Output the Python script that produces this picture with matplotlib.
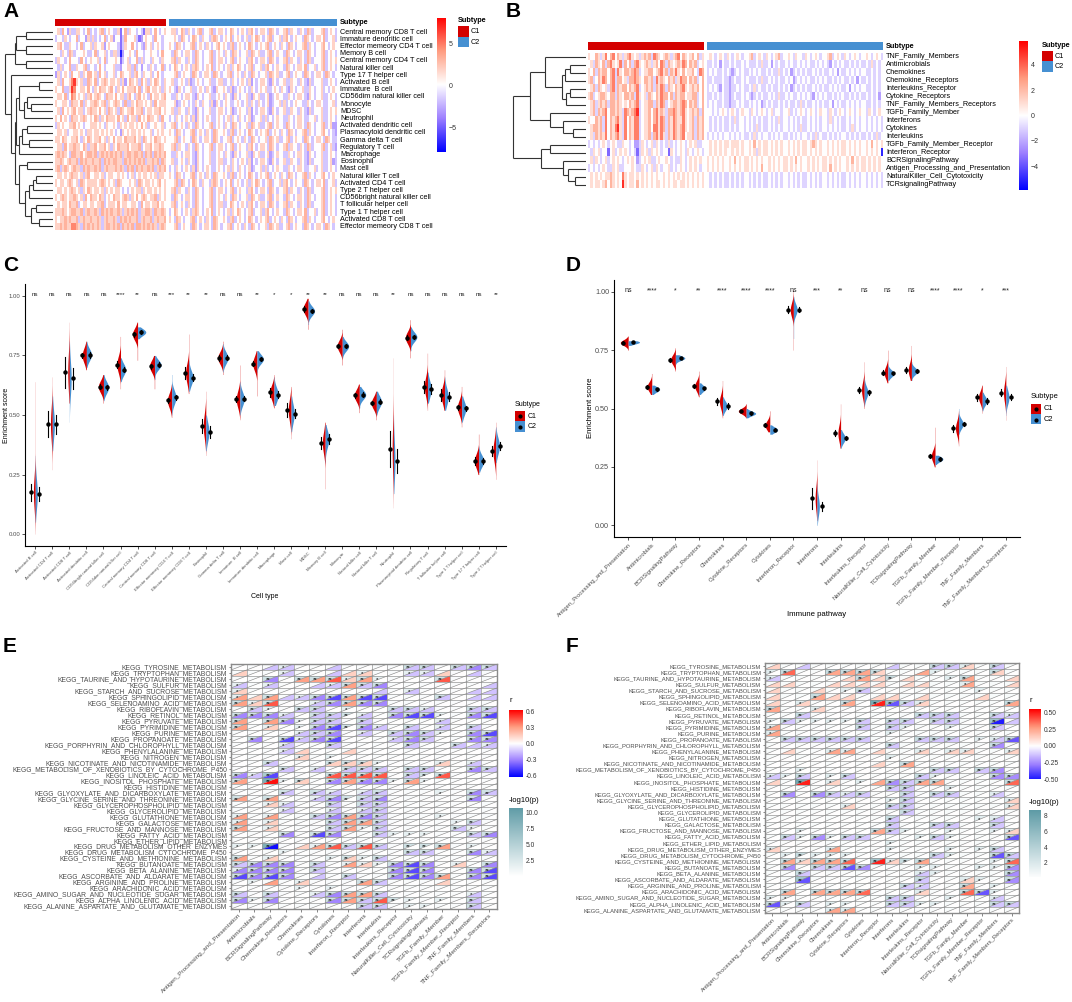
import numpy as np
import matplotlib
matplotlib.use("Agg")
import matplotlib.pyplot as plt
from matplotlib.colors import LinearSegmentedColormap, ListedColormap, Normalize
from matplotlib.collections import PolyCollection, LineCollection
from matplotlib.patches import Rectangle
from matplotlib.lines import Line2D

plt.rcParams['font.family'] = ['Liberation Sans', 'DejaVu Sans']

# ---------------- data ----------------
C1_COL = "#D40000"
C2_COL = "#4690D2"

# panel A: ssGSEA immune cells heatmap (digit -> level)
a_rows = ["Central memory CD8 T cell", "Immature dendritic cell", "Effector memeory CD4 T cell",
          "Memory B cell", "Central memory CD4 T cell", "Natural killer cell", "Type 17 T helper cell",
          "Activated B cell", "Immature  B cell", "CD56dim natural killer cell", "Monocyte", "MDSC",
          "Neutrophil", "Activated dendritic cell", "Plasmacytoid dendritic cell", "Gamma delta T cell",
          "Regulatory T cell", "Macrophage", "Eosinophil", "Mast cell", "Natural killer T cell",
          "Activated CD4 T cell", "Type 2 T helper cell", "CD56bright natural killer cell",
          "T follicular helper cell", "Type 1 T helper cell", "Activated CD8 T cell",
          "Effector memeory CD8 T cell"]
a_levels = [-7, -4.5, -3, -1.8, 0, 1.8, 3, 4.5, 6.5]
a_c1 = [
    "45364253 35543463 43456345 43351463 54434315 53464345",
    "34435434 46344253 53434634 52441364 44531245 44364434",
    "45643354 43463445 35445245 44431354 46434325 45345434",
    "44354365 34445433 46344534 35530244 54364434 45443464",
    "35443464 44364345 44534634 44541345 34463534 43544354",
    "43534463 35445634 43464344 45332445 53634244 35434463",
    "25345436 44535466 45364534 45346544 53564354 45346434",
    "45364457 85453365 46345654 55453524 65453645 35465435",
    "54463358 74455464 35465545 64354645 55646345 64554535",
    "45546347 64545356 45654365 54645535 64356454 36455456",
    "54455436 55463545 56545635 45654363 35465545 45364555",
    "45364545 64553456 55464536 54536545 56455634 55455645",
    "54645436 55456545 46535465 55464536 45536454 65545364",
    "35454455 64543445 55454354 45435454 55454645 34454453",
    "45545344 55454355 45545454 54342545 45545454 45345454",
    "55465445 56435465 45564535 46455465 55645365 45465545",
    "45536455 65546535 56455645 35465556 45556345 56455654",
    "56565436 65564566 56356565 65656356 65665636 56365656",
    "55654565 56365655 65563656 56655365 65656563 55656365",
    "56356545 65536565 56563565 55656536 56365655 65635656",
    "45545456 55453564 45545345 54454543 45345455 45453554",
    "54554565 45365455 55456545 45365444 54536545 54545645",
    "45545456 54535465 45545354 54554343 45455354 55454545",
    "54565455 65453646 55465345 46554565 35464565 45563545",
    "45455465 56345545 54556345 55464554 45543645 54556454",
    "55565456 65563565 56536565 65565356 56563556 65365565",
    "54556565 56356556 55653565 56536565 65563565 56356556",
    "55656557 76536565 65653566 56563656 56366565 65653565",
]
a_c2 = [
    "45534653 54345634 45634554 34654345 43564345 54365434 45635443 54365344 45634543",
    "44543654 34654354 43565434 54634543 45354654 34563445 35643454 43654345 54634453",
    "54365434 45634543 54345645 43563454 34654345 45634543 54365434 45635434 45643454",
    "43654345 54365434 45634543 54365434 45365453 34563454 43654345 54365434 45634543",
    "45635443 54365434 45634554 34563454 43564345 54365434 45635443 54365344 45634545",
    "34654345 43565434 54634543 45354654 34563445 35643454 43654345 54634453 45634543",
    "44563454 43654345 54365434 45634543 54365434 45365453 34563454 43654345 54365434",
    "45334543 52345434 45334553 34354345 43524345 54325434 45335443 54325344 45334543",
    "54325434 45334543 54325445 43523454 34354345 45334543 54325434 45335434 45343454",
    "43354345 54325434 45334543 54325434 45325453 34523454 43354345 54325434 45334543",
    "44523454 34354354 43525434 54334543 45354354 34523445 35343454 43354345 54334453",
    "45335443 54325434 45334554 34523454 43524345 54325434 45335443 54325344 45334545",
    "34354345 43525434 54334543 45354354 34523445 35343454 43354345 54334453 45334543",
    "45634543 54365434 45634543 54365434 45365453 34563454 43654345 54365434 45634522",
    "54365434 45634543 54365445 43563454 34654345 45634543 54365434 45635434 45643432",
    "44563454 43654345 54365434 45634543 54365434 45365453 34563454 43654345 54365433",
    "45635443 54365434 45634554 34563454 43564345 54365434 45635443 54365344 45634532",
    "43354345 54325434 45334543 54325434 45325453 34523454 43354345 54325434 45334543",
    "45334543 54325434 45334553 34354345 43524345 54325434 45335443 54325344 45334523",
    "34354345 43525434 54334543 45354354 34523445 35343454 43354345 54334453 45334543",
    "54365434 45634543 54365445 43563454 34654345 45634543 54365434 45635434 45643454",
    "44563654 34654354 43565434 54634543 45354654 34563445 35643454 43654345 54634453",
    "45635443 54365434 45634554 34563454 43564345 54365434 45635443 54365344 45634545",
    "43654345 54365434 45634543 54365434 45365453 34563454 43654345 54365434 45634543",
    "45634543 54365434 45634553 34654345 43564345 54365434 45635443 54365344 45634543",
    "34654345 43565434 54634543 45354654 34563445 35643454 43654345 54634453 45634543",
    "54365434 45634543 54365445 43563454 34654345 45634543 54365434 45635434 45643454",
    "44563454 43654345 54365434 45634543 54365434 45365453 34563454 43654345 54365434",
]
# dendrogram merges (left, right, height); ids >= n refer to earlier merges
a_merges = [(0, 1, 0.56), (2, 3, 0.56), (28, 29, 0.76), (4, 5, 0.56), (30, 31, 0.8),
            (7, 8, 0.3), (10, 11, 0.45), (9, 34, 0.55), (35, 12, 0.6), (33, 36, 0.7),
            (13, 14, 0.55), (15, 16, 0.5), (38, 39, 0.65), (40, 17, 0.7), (37, 41, 0.76),
            (18, 19, 0.55), (20, 21, 0.35), (44, 22, 0.42), (45, 23, 0.5), (24, 25, 0.35),
            (26, 27, 0.3), (47, 48, 0.45), (46, 49, 0.58), (43, 50, 0.7), (42, 51, 0.8),
            (6, 52, 0.87), (32, 53, 1.0)]

# panel B: immune pathways heatmap
b_rows = ["TNF_Family_Members", "Antimicrobials", "Chemokines", "Chemokine_Receptors",
          "Interleukins_Receptor", "Cytokine_Receptors", "TNF_Family_Members_Receptors",
          "TGFb_Family_Member", "Interferons", "Cytokines", "Interleukins",
          "TGFb_Family_Member_Receptor", "Interferon_Receptor", "BCRSignalingPathway",
          "Antigen_Processing_and_Presentation", "NaturalKiller_Cell_Cytotoxicity", "TCRsignalingPathway"]
b_levels = [-5, -3.5, -2.2, -1, 0, 1, 2.2, 3.5, 5]
b_c1 = [
    "54465357 46746535 67545356 56376545 65356746 54564635",
    "45365463 67545736 46367545 65356476 36545657 64656345",
    "54636566 46737546 65676345 56645675 63657546 45564376",
    "56346576 46736645 36676546 65637565 46563576 64656346",
    "45636545 36736566 46567345 65636576 36546567 54565646",
    "56345665 46636546 65637545 36546576 64636566 45566346",
    "45635656 36656545 46567345 56636576 34566567 64656346",
    "45636567 46656537 65678345 56467565 36676567 54565636",
    "54465637 46567537 46577345 56467576 36576557 54563656",
    "45665637 46578537 46577345 56477576 36576567 54563656",
    "45365657 46567537 46577345 56367575 36576567 45563656",
    "34343454 34543354 43422354 34535434 35343454 34545334",
    "43545344 14534545 43431354 53545434 41543454 35434543",
    "45354345 34545434 54542345 45334544 54343354 34545454",
    "34343454 33545334 44543354 34535434 45343454 34545434",
    "45454545 56545475 45545454 54545445 45454545 45454545",
    "45455456 46545485 45546454 54545545 45455455 45454545",
]
b_c2 = [
    "45434543 54345434 45634543 54345634 45435443 54345434 45634543 54345434 45434543",
    "33434243 34343343 43334353 34243433 43433434 34334343 43243434 33434343 34353434",
    "34343343 43234343 34343433 43433534 34234343 43343434 33434243 34343434 43343434",
    "33433343 32343343 43334353 34343433 43423434 34334343 43343434 33434243 34343434",
    "34343243 32334343 34353433 43433434 34234343 43343434 33434343 34243434 43343434",
    "33434343 32343343 43234343 34343533 43433434 34324343 43343434 33434343 34343424",
    "34343343 32334343 34343423 43433434 34334353 43343434 33424343 34343434 43343434",
    "44343454 34543454 43543454 34534434 45343454 34543454 43543454 34543454 43543454",
    "43434343 34353443 43434343 34343534 43434343 34343434 43534343 34343434 43434343",
    "43434343 34343443 43435343 34343434 43434353 34343434 43434343 34353434 43434343",
    "34343434 43434343 34353434 43434343 34343434 43435343 34343434 43434343 34343534",
    "45454545 54555454 45464545 54545454 45454545 54565454 45454545 54545454 45464545",
    "45454545 44545454 45453545 54545454 45454545 54545454 45454545 54545454 45454540",
    "54545454 45464545 54545454 45454545 54546454 45454545 54545454 45464545 54545454",
    "54545454 45454545 54545464 45454545 54545454 45454545 54645454 45454545 54545454",
    "43434343 34343434 43434343 34343434 43434343 34343434 43434343 34343434 43434343",
    "43434343 34343434 43434343 34343434 43434343 34343434 43434343 34343434 43434343",
]
b_merges = [(1, 2, 0.22), (17, 3, 0.29), (4, 5, 0.22), (19, 6, 0.27), (18, 20, 0.33),
            (0, 21, 0.56), (9, 10, 0.18), (8, 23, 0.32), (7, 24, 0.49), (22, 25, 0.77),
            (15, 16, 0.15), (14, 27, 0.25), (13, 28, 0.32), (11, 12, 0.5), (30, 29, 0.62),
            (26, 31, 1.0)]

# panel C: cell type enrichment by subtype
cell_types = ["Activated B cell", "Activated CD4 T cell", "Activated CD8 T cell", "Activated dendritic cell",
              "CD56bright natural killer cell", "CD56dim natural killer cell", "Central memory CD4 T cell",
              "Central memory CD8 T cell", "Effector memeory CD4 T cell", "Effector memeory CD8 T cell",
              "Eosinophil", "Gamma delta T cell", "Immature  B cell", "Immature dendritic cell",
              "Macrophage", "Mast cell", "MDSC", "Memory B cell", "Monocyte", "Natural killer cell",
              "Natural killer T cell", "Neutrophil", "Plasmacytoid dendritic cell", "Regulatory T cell",
              "T follicular helper cell", "Type 1 T helper cell", "Type 17 T helper cell", "Type 2 T helper cell"]
cell_sig = ["ns", "ns", "ns", "ns", "ns", "****", "**", "ns", "***", "**", "**", "ns", "ns", "**",
            "*", "*", "**", "**", "ns", "ns", "ns", "**", "ns", "ns", "ns", "ns", "ns", "**"]
cell_c1_mid = [0.175, 0.462, 0.679, 0.750, 0.619, 0.712, 0.839, 0.705, 0.561, 0.675, 0.454, 0.740, 0.566, 0.716,
               0.595, 0.520, 0.946, 0.383, 0.790, 0.582, 0.550, 0.356, 0.825, 0.619, 0.585, 0.532, 0.307, 0.349]
cell_c2_mid = [0.168, 0.461, 0.654, 0.753, 0.616, 0.691, 0.848, 0.711, 0.574, 0.656, 0.429, 0.740, 0.568, 0.735,
               0.585, 0.506, 0.937, 0.400, 0.789, 0.585, 0.556, 0.307, 0.828, 0.609, 0.577, 0.528, 0.307, 0.370]
cell_c1_err = [0.035, 0.055, 0.065, 0.012, 0.010, 0.015, 0.010, 0.010, 0.012, 0.025, 0.030, 0.012, 0.012, 0.010,
               0.020, 0.030, 0.012, 0.025, 0.010, 0.012, 0.010, 0.075, 0.010, 0.025, 0.025, 0.012, 0.015, 0.020]
cell_c2_err = [0.030, 0.040, 0.045, 0.012, 0.010, 0.010, 0.008, 0.010, 0.012, 0.015, 0.025, 0.010, 0.010, 0.010,
               0.015, 0.020, 0.010, 0.020, 0.008, 0.010, 0.010, 0.050, 0.008, 0.020, 0.020, 0.010, 0.012, 0.018]
cell_c1_sd = [0.07, 0.07, 0.08, 0.03, 0.025, 0.035, 0.025, 0.025, 0.03, 0.04, 0.05, 0.025, 0.035, 0.03,
              0.03, 0.045, 0.025, 0.045, 0.025, 0.025, 0.025, 0.10, 0.025, 0.04, 0.035, 0.03, 0.03, 0.045]
cell_c2_sd = [0.06, 0.06, 0.07, 0.025, 0.025, 0.025, 0.015, 0.02, 0.03, 0.03, 0.04, 0.025, 0.03, 0.02,
              0.03, 0.04, 0.02, 0.035, 0.02, 0.02, 0.025, 0.08, 0.02, 0.035, 0.035, 0.03, 0.025, 0.035]
cell_c1_lo = [0.00, 0.27, 0.55, 0.69, 0.55, 0.61, 0.73, 0.61, 0.49, 0.59, 0.33, 0.67, 0.48, 0.58,
              0.53, 0.40, 0.86, 0.19, 0.71, 0.51, 0.48, 0.11, 0.74, 0.52, 0.52, 0.45, 0.25, 0.23]
cell_c1_hi = [0.64, 0.66, 0.89, 0.81, 0.67, 0.83, 0.89, 0.75, 0.63, 0.84, 0.60, 0.81, 0.71, 0.77,
              0.67, 0.62, 0.99, 0.47, 0.86, 0.63, 0.60, 0.74, 0.90, 0.76, 0.69, 0.62, 0.42, 0.47]
cell_c2_lo = [0.05, 0.35, 0.47, 0.70, 0.56, 0.64, 0.82, 0.65, 0.50, 0.60, 0.35, 0.68, 0.50, 0.68,
              0.54, 0.43, 0.88, 0.30, 0.74, 0.53, 0.50, 0.17, 0.77, 0.55, 0.52, 0.47, 0.26, 0.30]
cell_c2_hi = [0.33, 0.58, 0.81, 0.81, 0.67, 0.74, 0.87, 0.75, 0.67, 0.73, 0.50, 0.80, 0.64, 0.77,
              0.66, 0.58, 0.98, 0.46, 0.83, 0.62, 0.60, 0.50, 0.87, 0.68, 0.66, 0.58, 0.37, 0.45]

# panel D: immune pathway enrichment by subtype
pathways = ["Antigen_Processing_and_Presentation", "Antimicrobials", "BCRSignalingPathway",
            "Chemokine_Receptors", "Chemokines", "Cytokine_Receptors", "Cytokines", "Interferon_Receptor",
            "Interferons", "Interleukins", "Interleukins_Receptor", "NaturalKiller_Cell_Cytotoxicity",
            "TCRsignalingPathway", "TGFb_Family_Member", "TGFb_Family_Member_Receptor",
            "TNF_Family_Members", "TNF_Family_Members_Receptors"]
path_sig = ["ns", "****", "*", "**", "****", "****", "****", "ns", "***", "**", "ns", "ns", "ns",
            "****", "****", "*", "***"]
path_c1_mid = [0.782, 0.593, 0.709, 0.596, 0.530, 0.489, 0.428, 0.922, 0.115, 0.394, 0.579, 0.654,
               0.664, 0.296, 0.416, 0.548, 0.567]
path_c2_mid = [0.784, 0.582, 0.716, 0.586, 0.511, 0.479, 0.409, 0.923, 0.081, 0.373, 0.569, 0.650,
               0.660, 0.284, 0.434, 0.533, 0.548]
path_c1_err = [0.008, 0.008, 0.008, 0.008, 0.015, 0.006, 0.008, 0.015, 0.045, 0.012, 0.012, 0.010,
               0.012, 0.010, 0.015, 0.015, 0.015]
path_c2_err = [0.005, 0.006, 0.006, 0.008, 0.012, 0.005, 0.006, 0.012, 0.020, 0.008, 0.010, 0.008,
               0.010, 0.008, 0.010, 0.012, 0.012]
path_c1_sd = [0.012, 0.02, 0.02, 0.022, 0.03, 0.012, 0.02, 0.03, 0.05, 0.035, 0.035, 0.025, 0.03,
              0.025, 0.03, 0.025, 0.04]
path_c2_sd = [0.008, 0.012, 0.01, 0.015, 0.02, 0.01, 0.012, 0.025, 0.04, 0.02, 0.025, 0.015, 0.015,
              0.012, 0.02, 0.02, 0.03]
path_c1_lo = [0.75, 0.56, 0.66, 0.55, 0.46, 0.46, 0.40, 0.75, 0.02, 0.33, 0.50, 0.61, 0.62, 0.25, 0.34, 0.48, 0.45]
path_c1_hi = [0.81, 0.65, 0.76, 0.66, 0.62, 0.52, 0.49, 1.01, 0.28, 0.52, 0.70, 0.75, 0.77, 0.42, 0.49, 0.60, 0.68]
path_c2_lo = [0.77, 0.56, 0.69, 0.56, 0.47, 0.46, 0.39, 0.80, 0.00, 0.33, 0.51, 0.62, 0.62, 0.26, 0.39, 0.49, 0.47]
path_c2_hi = [0.79, 0.60, 0.73, 0.61, 0.55, 0.50, 0.43, 0.98, 0.18, 0.41, 0.63, 0.69, 0.70, 0.30, 0.50, 0.57, 0.60]

# panels E/F: KEGG metabolism vs immune pathways
kegg = ["KEGG_TYROSINE_METABOLISM", "KEGG_TRYPTOPHAN_METABOLISM", "KEGG_TAURINE_AND_HYPOTAURINE_METABOLISM",
        "KEGG_SULFUR_METABOLISM", "KEGG_STARCH_AND_SUCROSE_METABOLISM", "KEGG_SPHINGOLIPID_METABOLISM",
        "KEGG_SELENOAMINO_ACID_METABOLISM", "KEGG_RIBOFLAVIN_METABOLISM", "KEGG_RETINOL_METABOLISM",
        "KEGG_PYRUVATE_METABOLISM", "KEGG_PYRIMIDINE_METABOLISM", "KEGG_PURINE_METABOLISM",
        "KEGG_PROPANOATE_METABOLISM", "KEGG_PORPHYRIN_AND_CHLOROPHYLL_METABOLISM",
        "KEGG_PHENYLALANINE_METABOLISM", "KEGG_NITROGEN_METABOLISM", "KEGG_NICOTINATE_AND_NICOTINAMIDE_METABOLISM",
        "KEGG_METABOLISM_OF_XENOBIOTICS_BY_CYTOCHROME_P450", "KEGG_LINOLEIC_ACID_METABOLISM",
        "KEGG_INOSITOL_PHOSPHATE_METABOLISM", "KEGG_HISTIDINE_METABOLISM",
        "KEGG_GLYOXYLATE_AND_DICARBOXYLATE_METABOLISM", "KEGG_GLYCINE_SERINE_AND_THREONINE_METABOLISM",
        "KEGG_GLYCEROPHOSPHOLIPID_METABOLISM", "KEGG_GLYCEROLIPID_METABOLISM", "KEGG_GLUTATHIONE_METABOLISM",
        "KEGG_GALACTOSE_METABOLISM", "KEGG_FRUCTOSE_AND_MANNOSE_METABOLISM", "KEGG_FATTY_ACID_METABOLISM",
        "KEGG_ETHER_LIPID_METABOLISM", "KEGG_DRUG_METABOLISM_OTHER_ENZYMES", "KEGG_DRUG_METABOLISM_CYTOCHROME_P450",
        "KEGG_CYSTEINE_AND_METHIONINE_METABOLISM", "KEGG_BUTANOATE_METABOLISM", "KEGG_BETA_ALANINE_METABOLISM",
        "KEGG_ASCORBATE_AND_ALDARATE_METABOLISM", "KEGG_ARGININE_AND_PROLINE_METABOLISM",
        "KEGG_ARACHIDONIC_ACID_METABOLISM", "KEGG_AMINO_SUGAR_AND_NUCLEOTIDE_SUGAR_METABOLISM",
        "KEGG_ALPHA_LINOLENIC_ACID_METABOLISM", "KEGG_ALANINE_ASPARTATE_AND_GLUTAMATE_METABOLISM"]
# r digit d -> (d - 4) * step ; p digit -> -log10(p) level
e_r = ["44334434444334323", "54434435544335434", "44246675644447444", "34344336324444443",
       "54444444434344433", "65633216114443433", "65744326224444444", "43443344443334433",
       "22234334342114421", "64624334344443444", "64544214234343434", "44443324343234421",
       "42413214443234422", "44434434444344333", "44435445444444444", "44445444444444444",
       "44344455544445434", "44434343334334423", "23144477774347444", "64845426224644444",
       "44444444444444444", "44434334334444423", "64644324324444424", "44534434334444444",
       "44434434334444444", "64644326234444444", "64544436634444434", "64544436434444344",
       "44424124434444432", "44444444444444444", "44045673734446444", "44444444444334423",
       "64544445434444444", "32224346542124542", "22224344442124421", "12124343442126421",
       "44645444634445444", "44444444444444444", "34344326634444434", "24244426374444434",
       "44444444334444434"]
e_p = ["00010000000220222", "00010000100110000", "00202221210002000", "10100012220000000",
       "10000000000100000", "10201222220002000", "21200122220000000", "02102201002210022",
       "22210222102221022", "20221220200001000", "20101222210201020", "00001220102221022",
       "02021220001220022", "00010020000200201", "00010000000000000", "00001010000000000",
       "00200022210001010", "00020102220220022", "21300022220222000", "20412022221210000",
       "00000000000000000", "00020210120001022", "20200122220000020", "00110020220000000",
       "00010010120000000", "10100222220001000", "10100022220000120", "20100022120000210",
       "00020220021110022", "00000000000000000", "11400122220222010", "00010000000220021",
       "20100012120000000", "22220201112220102", "12220200002220022", "22220002002222022",
       "01001000220000000", "00001010000000000", "20200122220000010", "21200022222101020",
       "00000000220110020"]
f_r = ["54344444344335434", "47446665446444454", "34444565454446445", "55445555455446445",
       "54454434444444444", "54465545545444544", "54544648135444446", "64454444444444444",
       "44344444443334433", "43444434334334403", "64444434344444434", "64444444444444444",
       "43333334443334431", "44444444344444424", "45446645445455445", "44444444444444444",
       "44444445464444444", "44444444444334324", "34344344443444422", "54845446236644447",
       "44444444334444444", "42423334434334434", "44444444434444445", "44444544334444445",
       "44444444434444444", "44444444344444434", "44444444344334434", "44444446344444445",
       "43424334444344441", "44444444444444444", "54446444444444434", "44444444444344413",
       "46566748546444447", "42433124444444442", "44344444443444442", "44144444443445442",
       "44444444433446444", "46466674445447144", "44444444334444434", "14344444334444433",
       "44446644444444444"]
f_p = ["00000000000221020", "12002222000100020", "10000020200012000", "00000000000001000",
       "00000120000000100", "00020000000000000", "00100204321000002", "20010000000000000",
       "00200000002220021", "12111120220220030", "10000020210010020", "10000000100000000",
       "02222220002220112", "00000000200000020", "00001100001011001", "00000000100000000",
       "00000000020000000", "00100000000220220", "11201200002100022", "00401010222200002",
       "00000000220010000", "02022120020220010", "00000000120000001", "00000100220000001",
       "00000000020000000", "00000000200000110", "00000000200220020", "00100002210010011",
       "02121220001210002", "00000000100000000", "10001000100010120", "01211100000210022",
       "02122203122000012", "02022220001100112", "00200000001100002", "00300000002001102",
       "00000000021002010", "02022220001002210", "11000000220010010", "21201100221100022",
       "00001100000000000"]
e_p_levels = [0.4, 1.6, 3.2, 5.5, 8.5]
f_p_levels = [0.4, 1.6, 3.0, 5.0, 7.5]

# ---------------- helpers ----------------
W, H = 1072, 1002
fig = plt.figure(figsize=(W / 100, H / 100), dpi=100)

heat_cmap = LinearSegmentedColormap.from_list(
    "bwr_lab", ["#0000FF", "#9E80FF", "#FFFFFF", "#FF9C80", "#FF0000"])
teal_cmap = LinearSegmentedColormap.from_list("teal", ["#FFFFFF", "#5E9BA6"])
GREY30 = "#4D4D4D"


def px_axes(x0, y0, x1, y1):
    return fig.add_axes([x0 / W, 1 - y1 / H, (x1 - x0) / W, (y1 - y0) / H])


def ftext(x, y, s, **kw):
    fig.text(x / W, 1 - y / H, s, **kw)


def fbox(x, y, w, h, color):
    fig.add_artist(Rectangle((x / W, 1 - (y + h) / H), w / W, h / H, transform=fig.transFigure,
                             facecolor=color, edgecolor="none"))


def decode(rows, levels):
    mats = [[levels[int(c)] for c in r.replace(" ", "")] for r in rows]
    n = min(len(m) for m in mats)
    return np.array([m[:n] for m in mats], dtype=float)


def draw_cbar(x0, y0, x1, y1, cmap, norm, lo, hi, ticks, labels, fs=5.0):
    cax = px_axes(x0, y0, x1, y1)
    vals = np.linspace(hi, lo, 256).reshape(-1, 1)
    cax.imshow(vals, cmap=cmap, norm=norm, aspect="auto", extent=(0, 1, lo, hi))
    cax.set_xlim(0, 1)
    cax.set_ylim(lo, hi)
    cax.set_xticks([])
    cax.yaxis.tick_right()
    cax.set_yticks(ticks)
    cax.set_yticklabels(labels, fontsize=fs, color="#333333")
    cax.tick_params(axis="y", length=0, pad=2)
    for sp in cax.spines.values():
        sp.set_visible(False)


def draw_dendro(ax, merges, n):
    pos = {i: float(i) for i in range(n)}
    hgt = {i: 0.0 for i in range(n)}
    segs = []
    for k, (a, b, h) in enumerate(merges):
        segs.append([(hgt[a], pos[a]), (h, pos[a])])
        segs.append([(hgt[b], pos[b]), (h, pos[b])])
        segs.append([(h, pos[a]), (h, pos[b])])
        pos[n + k] = (pos[a] + pos[b]) / 2
        hgt[n + k] = h
    ax.add_collection(LineCollection(segs, colors="#333333", linewidths=0.8))
    ax.set_xlim(1.02, 0.0)
    ax.set_ylim(n - 0.5, -0.5)
    ax.axis("off")


def draw_heatmap(g, rows, c1, c2, levels, merges, vmax, ticks, tick_labels):
    m1 = decode(c1, levels)
    m2 = decode(c2, levels)
    n = len(rows)
    norm = Normalize(-vmax, vmax)
    for (x0, x1), m, col in (((g["x0"], g["s0"]), m1, C1_COL), ((g["s1"], g["x1"]), m2, C2_COL)):
        ax = px_axes(x0, g["y0"], x1, g["y1"])
        ax.imshow(m, cmap=heat_cmap, norm=norm, aspect="auto", interpolation="nearest")
        ax.axis("off")
        an = px_axes(x0, g["ay0"], x1, g["ay1"])
        an.imshow(np.zeros((1, m.shape[1])), cmap=ListedColormap([col]), aspect="auto")
        an.axis("off")
    dax = px_axes(g["dx"], g["y0"], g["x0"] - 2, g["y1"])
    draw_dendro(dax, merges, n)
    rh = (g["y1"] - g["y0"]) / n
    for i, name in enumerate(rows):
        ftext(g["lx"], g["y0"] + (i + 0.5) * rh, name, fontsize=5.2, va="center", ha="left")
    ftext(g["lx"], (g["ay0"] + g["ay1"]) / 2 + 0.5, "Subtype", fontsize=5.2, fontweight="bold",
          va="center", ha="left")
    draw_cbar(g["cx0"], g["cy0"], g["cx1"], g["cy1"], heat_cmap, norm, -vmax, vmax, ticks, tick_labels)
    lx, ly = g["leg"]
    ftext(lx, ly, "Subtype", fontsize=5.2, fontweight="bold", va="center", ha="left")
    fbox(lx, ly + 5, 11, 10.5, C1_COL)
    fbox(lx, ly + 15.5, 11, 10.5, C2_COL)
    ftext(lx + 13, ly + 10.5, "C1", fontsize=5.2, va="center")
    ftext(lx + 13, ly + 21, "C2", fontsize=5.2, va="center")


def draw_violins(ax, names, sig, g1, g2, K, off, xfs, yfs, sfs):
    n = len(names)
    for i in range(n):
        for side, (m, e, s, lo, hi), col in ((-1, [a[i] for a in g1], C1_COL),
                                              (1, [a[i] for a in g2], C2_COL)):
            y = np.linspace(lo, hi, 200)
            wmax = min(K / s, 0.48)
            prof = np.maximum(np.exp(-0.5 * ((y - m) / s) ** 2), 0.06)
            ax.fill_betweenx(y, i, i + side * wmax * prof, color=col, lw=0, zorder=2)
            ax.plot([i + side * off] * 2, [m - e, m + e], color="black", lw=0.8, zorder=3)
            ax.plot(i + side * off, m, "o", color="black", ms=2.2, zorder=4)
        ax.text(i, 1.005, sig[i], ha="center", va="center", fontsize=sfs, color="#222222")
    ax.set_xlim(-0.6, n - 0.4)
    ax.set_ylim(-0.05, 1.05)
    ax.set_yticks([0, 0.25, 0.5, 0.75, 1.0])
    ax.set_yticklabels(["0.00", "0.25", "0.50", "0.75", "1.00"], fontsize=yfs, color=GREY30)
    ax.set_xticks(range(n))
    ax.set_xticklabels(names, rotation=45, ha="right", va="top", rotation_mode="anchor",
                       fontsize=xfs, color=GREY30)
    ax.tick_params(length=2, width=0.6, color="#333333", pad=1.5)
    for sp in ("top", "right"):
        ax.spines[sp].set_visible(False)
    for sp in ("left", "bottom"):
        ax.spines[sp].set_linewidth(0.8)


def violin_legend(x, y, fs):
    ftext(x, y, "Subtype", fontsize=fs, va="center", ha="left")
    for k, col in enumerate((C1_COL, C2_COL)):
        yy = y + 7 + k * 10.5
        fbox(x, yy, 10, 10, col)
        fig.add_artist(Line2D([(x + 5) / W], [1 - (yy + 5) / H], marker="o", ms=2, color="black",
                              transform=fig.transFigure))
        ftext(x + 13, yy + 5, "C%d" % (k + 1), fontsize=fs, va="center")


def draw_corr(box, r_rows, p_rows, r_step, p_levels, rnorm, pnorm, yfs, xfs):
    r = np.array([[(int(c) - 4) * r_step for c in s] for s in r_rows])
    lp = np.array([[p_levels[int(c)] for c in s] for s in p_rows])
    nr, nc = r.shape
    ax = px_axes(*box)
    lower, upper, diag = [], [], []
    for i in range(nr):
        for j in range(nc):
            lower.append([(j, i + 1), (j + 1, i + 1), (j + 1, i)])
            upper.append([(j, i), (j, i + 1), (j + 1, i)])
            diag.append([(j, i + 1), (j + 1, i)])
            v = lp[i, j]
            star = "**" if v > 2 else ("*" if v > 1.301 else "")
            if star:
                ax.text(j + 0.36, i + 0.6, star, ha="center", va="center", fontsize=4.3, color="black")
    ax.add_collection(PolyCollection(upper, facecolors=teal_cmap(pnorm(lp.ravel())), edgecolors="none"))
    ax.add_collection(PolyCollection(lower, facecolors=heat_cmap(rnorm(r.ravel())), edgecolors="none"))
    grid = [[(j, 0), (j, nr)] for j in range(nc + 1)] + [[(0, i), (nc, i)] for i in range(nr + 1)]
    ax.add_collection(LineCollection(grid + diag, colors="#8A8A8A", linewidths=0.45))
    ax.set_xlim(0, nc)
    ax.set_ylim(nr, 0)
    ax.set_yticks(np.arange(nr) + 0.5)
    ax.set_yticklabels(kegg, fontsize=yfs, color=GREY30)
    ax.set_xticks(np.arange(nc) + 0.5)
    ax.set_xticklabels(pathways, rotation=45, ha="right", va="top", rotation_mode="anchor",
                       fontsize=xfs, color=GREY30)
    ax.tick_params(length=1.8, width=0.5, color="#555555", pad=1)
    for sp in ax.spines.values():
        sp.set_color("#8A8A8A")
        sp.set_linewidth(1.0)


# ---------------- panels A / B ----------------
draw_heatmap(dict(x0=55, s0=166, s1=169, x1=337, y0=28.5, y1=230, ay0=18.5, ay1=26, dx=4, lx=340,
                  cx0=437, cy0=18, cx1=446, cy1=152.5, leg=(458, 21)),
             a_rows, a_c1, a_c2, a_levels, a_merges, 8.0, [-5, 0, 5], ["\u22125", "0", "5"])
draw_heatmap(dict(x0=588, s0=704, s1=707, x1=883, y0=53, y1=188.5, ay0=42, ay1=50, dx=512, lx=886,
                  cx0=1019, cy0=41, cx1=1028, cy1=190, leg=(1042, 45.5)),
             b_rows, b_c1, b_c2, b_levels, b_merges, 5.9, [-4, -2, 0, 2, 4],
             ["\u22124", "\u22122", "0", "2", "4"])

# ---------------- panel C ----------------
axc = px_axes(25, 284, 506, 546)
draw_violins(axc, cell_types, cell_sig,
             (cell_c1_mid, cell_c1_err, cell_c1_sd, cell_c1_lo, cell_c1_hi),
             (cell_c2_mid, cell_c2_err, cell_c2_sd, cell_c2_lo, cell_c2_hi),
             K=0.0075, off=0.23, xfs=3.1, yfs=4.3, sfs=4.5)
ftext(265, 597, "Cell type", fontsize=5, ha="center", va="center")
ftext(7, 415, "Enrichment score", fontsize=5, ha="center", va="center", rotation=90)
violin_legend(515, 404, 5)

# ---------------- panel D ----------------
axd = px_axes(614, 280, 1020, 537)
draw_violins(axd, pathways, path_sig,
             (path_c1_mid, path_c1_err, path_c1_sd, path_c1_lo, path_c1_hi),
             (path_c2_mid, path_c2_err, path_c2_sd, path_c2_lo, path_c2_hi),
             K=0.004, off=0.22, xfs=4.2, yfs=5.2, sfs=5.0)
ftext(817, 615, "Immune pathway", fontsize=5.6, ha="center", va="center")
ftext(591, 408, "Enrichment score", fontsize=5.6, ha="center", va="center", rotation=90)
violin_legend(1031, 397, 5.4)

# ---------------- panels E / F ----------------
e_rnorm = Normalize(-0.63, 0.63)
e_pnorm = Normalize(0, 10.7)
draw_corr((231, 664, 497, 909), e_r, e_p, 0.15, e_p_levels, e_rnorm, e_pnorm, yfs=4.9, xfs=4.6)
ftext(509, 701, "r", fontsize=5.5, va="center")
draw_cbar(509, 710, 523, 777, heat_cmap, e_rnorm, -0.63, 0.63, [-0.6, -0.3, 0, 0.3, 0.6],
          ["-0.6", "-0.3", "0.0", "0.3", "0.6"], fs=4.8)
ftext(509, 800, "-log10(p)", fontsize=5.5, va="center")
draw_cbar(509, 808, 523, 876, teal_cmap, e_pnorm, 0.0, 10.7, [2.5, 5.0, 7.5, 10.0],
          ["2.5", "5.0", "7.5", "10.0"], fs=4.8)

f_rnorm = Normalize(-0.56, 0.56)
f_pnorm = Normalize(0, 8.7)
draw_corr((765, 663, 1019, 913), f_r, f_p, 0.125, f_p_levels, f_rnorm, f_pnorm, yfs=4.2, xfs=4.2)
ftext(1029, 701, "r", fontsize=5.5, va="center")
draw_cbar(1029, 709, 1041, 779, heat_cmap, f_rnorm, -0.5, 0.56, [-0.5, -0.25, 0, 0.25, 0.5],
          ["-0.50", "-0.25", "0.00", "0.25", "0.50"], fs=4.8)
ftext(1029, 802, "-log10(p)", fontsize=5.5, va="center")
draw_cbar(1029, 810, 1041, 877, teal_cmap, f_pnorm, 0.2, 8.7, [2, 4, 6, 8],
          ["2", "4", "6", "8"], fs=4.8)

# ---------------- panel letters ----------------
for letter, (x, y) in zip("ABCDEF", [(3, 2), (506, 2), (3, 256), (566, 256), (3, 637), (566, 637)]):
    ftext(x, y, letter, fontsize=15, fontweight="bold", va="top", ha="left")

fig.savefig("out.png", dpi=100)
